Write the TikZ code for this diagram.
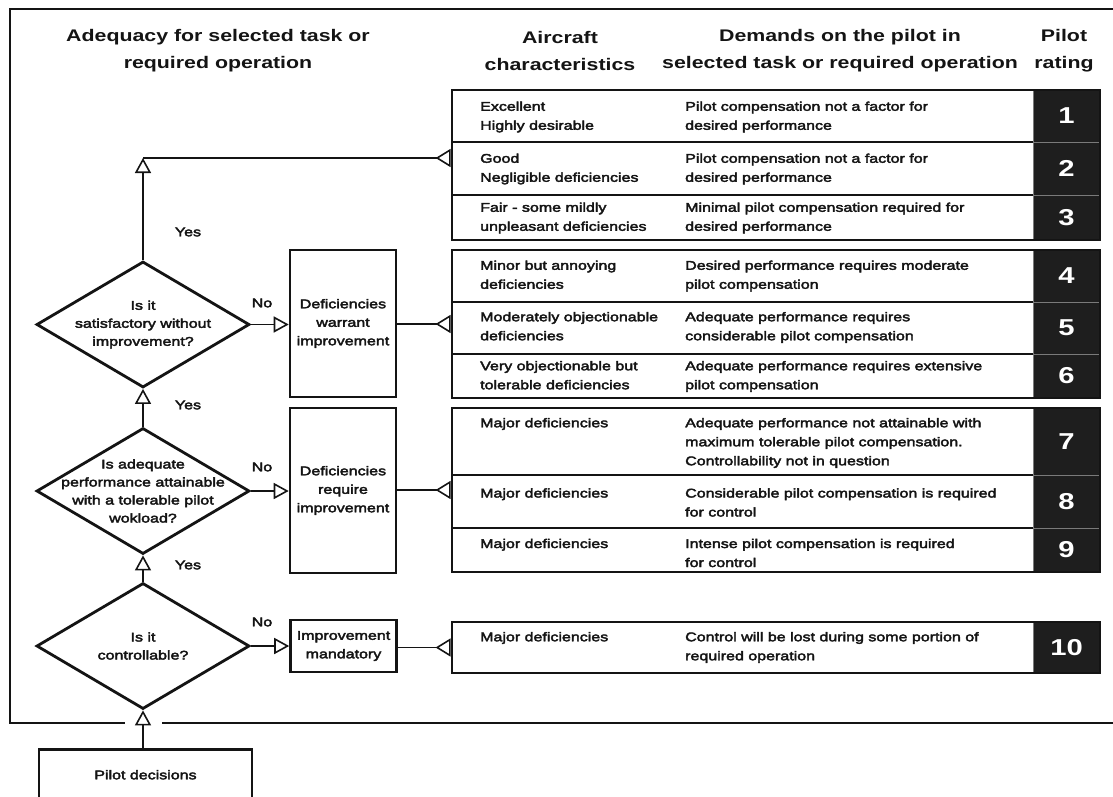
\documentclass[tikz,border=0pt]{standalone}
\usepackage{fontspec}
\setmainfont{Liberation Sans}[FakeStretch=1.27]
\newfontfamily\scanfont{Liberation Sans}[FakeStretch=1.27, FakeBold=3]
\usepackage{xcolor}
\definecolor{ink}{HTML}{141414}
\definecolor{ratebg}{HTML}{1E1E1E}
\definecolor{rategrid}{HTML}{7A7A7A}
\usetikzlibrary{shapes.geometric, arrows.meta, positioning, calc}

\tikzset{
  headline/.style={font=\fontsize{16.8}{27}\selectfont\bfseries, align=center, text=ink, inner sep=0pt},
  celltext/.style={font=\scanfont\fontsize{12.6}{19}\selectfont, align=left, text=ink, inner sep=0pt},
  question/.style={diamond, draw=ink, line width=2.8pt, minimum width=213pt, minimum height=126pt, inner sep=0pt},
  qtext/.style={font=\scanfont\fontsize{12.6}{18}\selectfont, align=center, text=ink, inner sep=0pt},
  actionbox/.style={draw=ink, line width=2.6pt, minimum width=106pt, font=\scanfont\fontsize{12.6}{18.5}\selectfont, align=center, text=ink, inner sep=0pt},
  pilotbox/.style={draw=ink, line width=2.6pt, minimum width=213pt, font=\scanfont\fontsize{12.6}{15}\selectfont, text=ink, inner sep=0pt},
  groupbox/.style={draw=ink, line width=2.8pt, minimum width=648pt, inner sep=0pt},
  ratecell/.style={fill=ratebg, draw=rategrid, line width=0.8pt, minimum width=67pt, inner sep=0pt, text=white, font=\fontsize{23}{23}\selectfont\bfseries},
  rowsep/.style={draw=ink, line width=1.8pt},
  flow/.style={draw=ink, line width=1.6pt},
  opentip/.style={-{Triangle[open, length=15pt, width=16pt]}},
  backtip/.style={{Triangle[open, reversed, length=15pt, width=18pt]}-},
  answer/.style={font=\scanfont\fontsize{12.6}{15}\selectfont, text=ink, inner sep=0pt}
}

\begin{document}
\begin{tikzpicture}[x=1pt, y=-1pt]
  \fill[white] (0,0) rectangle (1113,797);
  \useasboundingbox (0,0) rectangle (1113,797);

  % outer frame
  \draw[ink, line width=2pt] (1113,9) -- (10,9) -- (10,723) -- (125,723);
  \draw[ink, line width=2pt] (162,723) -- (1113,723);

  % column heads
  \node[headline] (hAdequacy) at (218,51) {Adequacy for selected task or\\required operation};
  \node[headline] (hAircraft) at (560,51) {Aircraft\\characteristics};
  \node[headline] (hDemands) at (840,51) {Demands on the pilot in\\selected task or required operation};
  \node[headline] (hRating) at (1064,51) {Pilot\\rating};

  % rating column
  \foreach \num/\top/\bot in {1/90/142, 2/142/195, 3/195/240, 4/250/302, 5/302/354,
                              6/354/398, 7/408/475, 8/475/528, 9/528/572, 10/622/673}
    \node[ratecell, minimum height={\bot-\top}] (r\num) at (1066.5, {(\top+\bot)/2}) {\num};

  \foreach \yy in {142, 195, 302, 354, 475, 528}
    \draw[rowsep] (452,\yy) -- (1033,\yy);

  % rating groups
  \node[groupbox, minimum height=150pt] (g1) at (776,165) {};
  \node[groupbox, minimum height=148pt] (g2) at (776,324) {};
  \node[groupbox, minimum height=164pt] (g3) at (776,490) {};
  \node[groupbox, minimum height=51pt] (g4) at (776,647.5) {};

  \coordinate (colA) at (480,0);
  \coordinate (colB) at (685,0);

  % demands and characteristics
  \node[celltext, anchor=west] (d1) at (685,117) {Pilot compensation not a factor for\\desired performance};
  \node[celltext, anchor=north west] (c1) at (d1.north -| colA) {Excellent\\Highly desirable};
  \node[celltext, anchor=west] (d2) at (685,169) {Pilot compensation not a factor for\\desired performance};
  \node[celltext, anchor=north west] (c2) at (d2.north -| colA) {Good\\Negligible deficiencies};
  \node[celltext, anchor=west] (d3) at (685,218) {Minimal pilot compensation required for\\desired performance};
  \node[celltext, anchor=north west] (c3) at (d3.north -| colA) {Fair - some mildly\\unpleasant deficiencies};
  \node[celltext, anchor=west] (d4) at (685,276) {Desired performance requires moderate\\pilot compensation};
  \node[celltext, anchor=north west] (c4) at (d4.north -| colA) {Minor but annoying\\deficiencies};
  \node[celltext, anchor=west] (d5) at (685,327.5) {Adequate performance requires\\considerable pilot compensation};
  \node[celltext, anchor=north west] (c5) at (d5.north -| colA) {Moderately objectionable\\deficiencies};
  \node[celltext, anchor=west] (d6) at (685,376.5) {Adequate performance requires extensive\\pilot compensation};
  \node[celltext, anchor=north west] (c6) at (d6.north -| colA) {Very objectionable but\\tolerable deficiencies};
  \node[celltext, anchor=west] (d7) at (685,443) {Adequate performance not attainable with\\maximum tolerable pilot compensation.\\Controllability not in question};
  \node[celltext, anchor=north west] (c7) at (d7.north -| colA) {Major deficiencies};
  \node[celltext, anchor=west] (d8) at (685,502.5) {Considerable pilot compensation is required\\for control};
  \node[celltext, anchor=north west] (c8) at (d8.north -| colA) {Major deficiencies};
  \node[celltext, anchor=west] (d9) at (685,553) {Intense pilot compensation is required\\for control};
  \node[celltext, anchor=north west] (c9) at (d9.north -| colA) {Major deficiencies};
  \node[celltext, anchor=west] (d10) at (685,647.5) {Control will be lost during some portion of\\required operation};
  \node[celltext, anchor=north west] (c10) at (d10.north -| colA) {Major deficiencies};

  % decisions
  \node[question] (q1) at (143,324.5) {};
  \node[qtext] (q1t) at (q1) {Is it\\satisfactory without\\improvement?};
  \node[question] (q2) at (143,491) {};
  \node[qtext] (q2t) at (q2) {Is adequate\\performance attainable\\with a tolerable pilot\\wokload?};
  \node[question] (q3) at (143,646) {};
  \node[qtext] (q3t) at (q3) {Is it\\controllable?};

  \node[actionbox, minimum height=147pt] (b1) at (343,323.5) {Deficiencies\\warrant\\improvement};
  \node[actionbox, minimum height=165pt] (b2) at (343,490.5) {Deficiencies\\require\\improvement};
  \node[actionbox, minimum height=52pt] (b3) at (343.5,646) {Improvement\\mandatory};

  \node[pilotbox, text height=30pt, text depth=30pt, anchor=north] (pilot) at (145.5,748) {Pilot decisions};

  \node[answer] (yes1) at (188,232) {Yes};
  \node[answer] (yes2) at (188,405) {Yes};
  \node[answer] (yes3) at (188,565) {Yes};
  \node[answer] (no1) at (262,303) {No};
  \node[answer] (no2) at (262,467) {No};
  \node[answer] (no3) at (262,622) {No};

  % connectors
  \coordinate (topturn) at (143,158);
  \draw[flow, opentip] (q1.north) -- (topturn);
  \draw[flow, backtip] (topturn -| g1.west) -- (topturn);
  \draw[flow, opentip] (q2.north) -- (q1.south);
  \draw[flow, opentip] (q3.north) -- (q2.south);
  \draw[flow, opentip] (q3.south |- pilot.north) -- (q3.south);

  \draw[flow, opentip] (q1.east) -- (q1.east -| b1.west);
  \draw[flow, opentip] (q2.east) -- (q2.east -| b2.west);
  \draw[flow, opentip] (q3.east) -- (q3.east -| b3.west);

  \draw[flow, backtip] (g2.west) -- (g2.west -| b1.east);
  \draw[flow, backtip] (g3.west) -- (g3.west -| b2.east);
  \draw[flow, backtip] (g4.west) -- (g4.west -| b3.east);
\end{tikzpicture}
\end{document}
